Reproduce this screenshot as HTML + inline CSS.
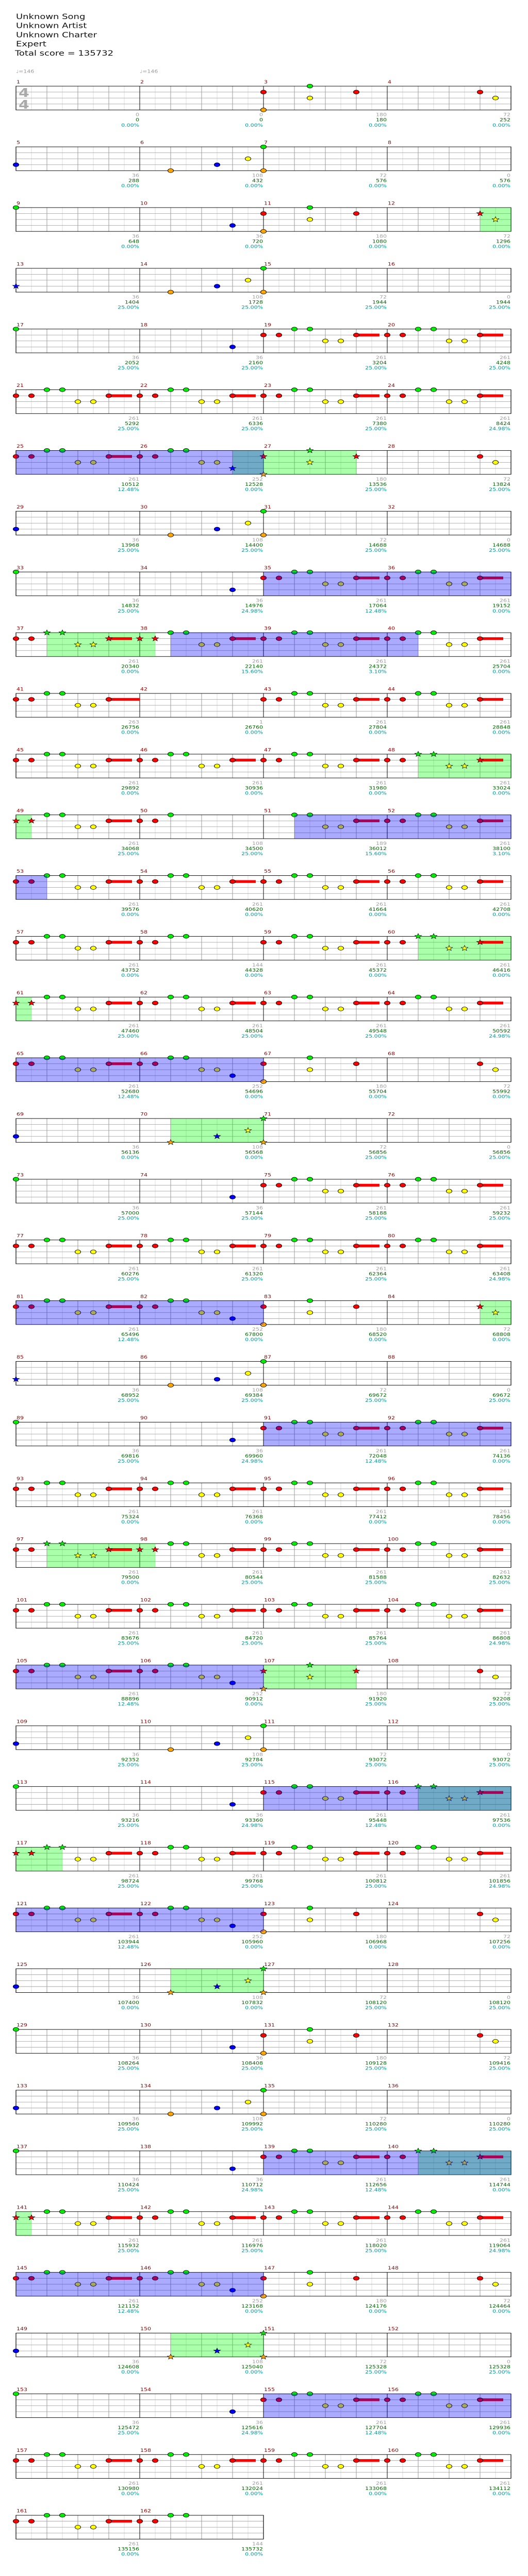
<!DOCTYPE html>
<html><head><meta charset="utf-8">
<style>
html,body{margin:0;padding:0;background:#fff;width:100%;height:100%;overflow:hidden;}
svg{display:block;position:absolute;left:0;top:0;width:100vw;height:100vh;}
.t{font-family:"DejaVu Sans","Liberation Sans",sans-serif;}
</style></head>
<body>
<svg id="chart" viewBox="0 0 1024 6490" preserveAspectRatio="none" xmlns="http://www.w3.org/2000/svg">
<g class="t" font-size="18" fill="#111">
<text x="31" y="48">Unknown Song</text>
<text x="31" y="71">Unknown Artist</text>
<text x="31" y="94">Unknown Charter</text>
<text x="31" y="117">Expert</text>
<text x="29" y="140">Total score = 135732</text>
</g>
<g class="t" font-size="11" fill="#999">
<text x="31" y="184">♩=146</text>
<text x="271" y="184">♩=146</text>
</g>
<g id="rows"></g>
</svg>
<script>
const measureTypes = ["E","E","C","D","B1","B2","B3","E","G","BL","C","D","B1","B2","B3","E","G","BL","R","R",
"R","R","R","R","R","RE","C","D","B1","B2","B3","E","G","BL","R","R","R","R","R","R",
"RL","E","R","R","R","R","R","R","R","R3","RB","R","R","R","R","R","R","R4","R","R",
"R","R","R","R","R","RE","C","D","B1","B2","B3","E","G","BL","R","R","R","R","R","R",
"R","RE","C","D","B1","B2","B3","E","G","BL","R","R","R","R","R","R","R","R","R","R",
"R","R","R","R","R","RE","C","D","B1","B2","B3","E","G","BL","R","R","R","R","R","R",
"R","RE","C","D","B1","B2","B3","E","G","BL","C","D","B1","B2","B3","E","G","BL","R","R",
"R","R","R","R","R","RE","C","D","B1","B2","B3","E","G","BL","R","R","R","R","R","R",
"R","R4"];
const patterns = {
 E:[], G:[[0,0]], BL:[[3,6]], B1:[[3,0]], B2:[[4,2],[3,5],[2,7]], B3:[[0,0],[4,0]],
 C:[[1,0],[4,0],[0,3],[2,3],[1,6]], D:[[1,6],[2,7]],
 R:[[1,0],[1,1],[0,2],[0,3],[2,4],[2,5],[1,6,7.5]],
 RL:[[1,0],[1,1],[0,2],[0,3],[2,4],[2,5],[1,6,8]],
 RE:[[1,0],[1,1],[0,2],[0,3],[2,4],[2,5],[3,6]],
 R4:[[1,0],[1,1],[0,2],[0,3]], R3:[[1,0],[1,1],[0,2]],
 RB:[[0,2],[0,3],[2,4],[2,5],[1,6,7.5]]
};
const laneColors = ["#00ee00","#ff0000","#ffff00","#0000ff","#ffa500"];
const greyVals = [0,0,180,72,36,108,72,0,36,36,180,72,36,108,72,0,36,36,261,261,
261,261,261,261,261,252,180,72,36,108,72,0,36,36,261,261,261,261,261,261,
263,1,261,261,261,261,261,261,261,108,189,261,261,261,261,261,261,144,261,261,
261,261,261,261,261,252,180,72,36,108,72,0,36,36,261,261,261,261,261,261,
261,252,180,72,36,108,72,0,36,36,261,261,261,261,261,261,261,261,261,261,
261,261,261,261,261,252,180,72,36,108,72,0,36,36,261,261,261,261,261,261,
261,252,180,72,36,108,72,0,36,36,180,72,36,108,72,0,36,36,261,261,
261,261,261,261,261,252,180,72,36,108,72,0,36,36,261,261,261,261,261,261,
261,144];
const scoreVals = [0,0,180,252,288,432,576,576,648,720,1080,1296,1404,1728,1944,1944,2052,2160,3204,4248,
5292,6336,7380,8424,10512,12528,13536,13824,13968,14400,14688,14688,14832,14976,17064,19152,20340,22140,24372,25704,
26756,26760,27804,28848,29892,30936,31980,33024,34068,34500,36012,38100,39576,40620,41664,42708,43752,44328,45372,46416,
47460,48504,49548,50592,52680,54696,55704,55992,56136,56568,56856,56856,57000,57144,58188,59232,60276,61320,62364,63408,
65496,67800,68520,68808,68952,69384,69672,69672,69816,69960,72048,74136,75324,76368,77412,78456,79500,80544,81588,82632,
83676,84720,85764,86808,88896,90912,91920,92208,92352,92784,93072,93072,93216,93360,95448,97536,98724,99768,100812,101856,
103944,105960,106968,107256,107400,107832,108120,108120,108264,108408,109128,109416,109560,109992,110280,110280,110424,110712,112656,114744,
115932,116976,118020,119064,121152,123168,124176,124464,124608,125040,125328,125328,125472,125616,127704,129936,130980,132024,133068,134112,
135156,135732];
const pctVals = ["0.00","0.00","0.00","0.00","0.00","0.00","0.00","0.00","0.00","0.00","0.00","0.00","25.00","25.00","25.00","25.00","25.00","25.00","25.00","25.00",
"25.00","25.00","25.00","24.98","12.48","0.00","25.00","25.00","25.00","25.00","25.00","25.00","25.00","24.98","12.48","0.00","0.00","15.60","3.10","0.00",
"0.00","0.00","0.00","0.00","0.00","0.00","0.00","0.00","25.00","25.00","15.60","3.10","0.00","0.00","0.00","0.00","0.00","0.00","0.00","0.00",
"25.00","25.00","25.00","24.98","12.48","0.00","0.00","0.00","0.00","0.00","25.00","25.00","25.00","25.00","25.00","25.00","25.00","25.00","25.00","24.98",
"12.48","0.00","0.00","0.00","25.00","25.00","25.00","25.00","25.00","24.98","12.48","0.00","0.00","0.00","0.00","0.00","0.00","25.00","25.00","25.00",
"25.00","25.00","25.00","24.98","12.48","0.00","25.00","25.00","25.00","25.00","25.00","25.00","25.00","24.98","12.48","0.00","25.00","25.00","25.00","24.98",
"12.48","0.00","0.00","0.00","0.00","0.00","25.00","25.00","25.00","25.00","25.00","25.00","25.00","25.00","25.00","25.00","25.00","24.98","12.48","0.00",
"25.00","25.00","25.00","24.98","12.48","0.00","0.00","0.00","0.00","0.00","25.00","25.00","25.00","24.98","12.48","0.00","0.00","0.00","0.00","0.00",
"0.00","0.00"];
const starRegions = [[[12,6],[13,0]],[[26,6],[27,6]],[[37,2],[38,1]],[[48,2],[49,1]],[[60,2],[61,1]],[[70,2],[71,0]],
 [[84,6],[85,0]],[[97,2],[98,1]],[[107,0],[107,6]],[[116,2],[117,3]],[[126,2],[127,0]],[[140,2],[141,1]],[[150,2],[151,0]]];
const spRegions = [[[25,0],[27,0]],[[35,0],[37,0]],[[38,2],[40,2]],[[51,2],[53,2]],[[65,0],[67,0]],[[81,0],[83,0]],
 [[91,0],[93,0]],[[105,0],[107,0]],[[115,0],[117,0]],[[121,0],[123,0]],[[139,0],[141,0]],[[145,0],[147,0]],[[155,0],[157,0]]];

const NS="http://www.w3.org/2000/svg";
const X0=31, MW=240, E8=30, TOP0=217, ROWH=153, SH=60, LANE=15;
const root=document.getElementById('rows');
function el(tag, attrs, parent){const e=document.createElementNS(NS,tag);for(const k in attrs)e.setAttribute(k,attrs[k]);(parent||root).appendChild(e);return e;}
function mX(m,p){const col=(m-1)%4;return X0+col*MW+p*E8;}
function mTop(m){return TOP0+Math.floor((m-1)/4)*ROWH;}
function tVal(m,p){return (m-1)*8+p;}
function inRegion(regs,m,p){const t=tVal(m,p);return regs.some(r=>t>=tVal(r[0][0],r[0][1])&&t<=tVal(r[1][0],r[1][1]));}
function regionRects(r){
  const out=[];let s=tVal(r[0][0],r[0][1]), e=tVal(r[1][0],r[1][1]);
  while(s<e){const row=Math.floor(s/32);const rowEnd=Math.min(e,(row+1)*32);
    out.push({row, x1:X0+(s-row*32)*E8, x2:X0+(rowEnd-row*32)*E8});s=rowEnd;}
  return out;}
function starPath(cx,cy,R){let d="";for(let i=0;i<10;i++){const a=-Math.PI/2+i*Math.PI/5;const rr=i%2?R*0.42:R;d+=(i?"L":"M")+(cx+rr*Math.cos(a)).toFixed(2)+" "+(cy+rr*Math.sin(a)).toFixed(2);}return d+"Z";}

const nM=measureTypes.length, nRows=Math.ceil(nM/4);
for(let r=0;r<nRows;r++){
  const g=el('g',{});
  
  
  const top=TOP0+r*ROWH;
  const mCount=Math.min(4,nM-r*4);
  const w=mCount*MW;
  for(let i=1;i<mCount*8;i++){const x=X0+i*E8;const strong=(i%2===0);
    if(i%8===0)continue;
    el('line',{x1:x,y1:top,x2:x,y2:top+SH,stroke:strong?'#9a9a9a':'#dddddd','stroke-width':1},g);}
  for(let l=1;l<4;l++) el('line',{x1:X0,y1:top+l*LANE,x2:X0+w,y2:top+l*LANE,stroke:'#9a9a9a','stroke-width':1},g);
  for(let i=1;i<mCount;i++){const x=X0+i*MW;el('line',{x1:x,y1:top,x2:x,y2:top+SH,stroke:'#000','stroke-width':1},g);}
  const border=el('rect',{x:X0,y:top,width:w,height:SH,fill:'none',stroke:'#000','stroke-width':1.2},g);
  
  
  if(r===0){
    const ts=el('text',{x:X0+5,y:top+27,'font-size':30,fill:'#aaa','font-family':'DejaVu Sans, sans-serif','font-weight':'bold'},g);ts.textContent='4';
    
    
    const tb=el('text',{x:X0+5,y:top+57,'font-size':30,fill:'#aaa','font-family':'DejaVu Sans, sans-serif','font-weight':'bold'},g);tb.textContent='4';
    
    
  }
}
const gLayer=el('g',{});


starRegions.forEach(r=>regionRects(r).forEach(rc=>{
  const rect=el('rect',{x:rc.x1,y:TOP0+rc.row*ROWH,width:rc.x2-rc.x1,height:SH,fill:'rgba(0,255,0,0.333)'},gLayer);
  
  
}));
const nLayer=el('g',{});


for(let m=1;m<=nM;m++){
  const top=mTop(m);
  patterns[measureTypes[m-1]].forEach(n=>{
    const lane=n[0],p=n[1];const cx=mX(m,p),cy=top+lane*LANE;
    if(n[2]!==undefined){
      const bar=el('rect',{x:cx,y:cy-3.5,width:(n[2]-p)*E8,height:7,fill:laneColors[lane]},nLayer);
      
      
    }
    let shape;
    if(inRegion(starRegions,m,p)) shape=el('path',{d:starPath(cx,cy,7),fill:laneColors[lane],stroke:'#000','stroke-width':0.8},nLayer);
    else shape=el('ellipse',{cx:cx,cy:cy,rx:5.5,ry:5,fill:laneColors[lane],stroke:'#000','stroke-width':1},nLayer);
    
    
  });
}
const sLayer=el('g',{});


spRegions.forEach(r=>regionRects(r).forEach(rc=>{
  const rect=el('rect',{x:rc.x1,y:TOP0+rc.row*ROWH,width:rc.x2-rc.x1,height:SH,fill:'rgba(0,0,255,0.333)'},sLayer);
  
  
}));
const lLayer=el('g',{'font-family':'DejaVu Sans, Liberation Sans, sans-serif','font-size':11});


for(let m=1;m<=nM;m++){
  const top=mTop(m), xs=mX(m,0), xe=xs+MW;
  const num=el('text',{x:xs+1,y:top-7,fill:'#8b0000'},lLayer);num.textContent=m;
  
  
  const a=el('text',{x:xe-1,y:top+SH+16,fill:'#a0a0a0','text-anchor':'end'},lLayer);a.textContent=greyVals[m-1];
  
  
  const b=el('text',{x:xe-1,y:top+SH+29,fill:'#006400','text-anchor':'end'},lLayer);b.textContent=scoreVals[m-1];
  
  
  const c=el('text',{x:xe-1,y:top+SH+42,fill:'#009999','text-anchor':'end'},lLayer);c.textContent=pctVals[m-1]+'%';
  
  
}
</script>
</body></html>
